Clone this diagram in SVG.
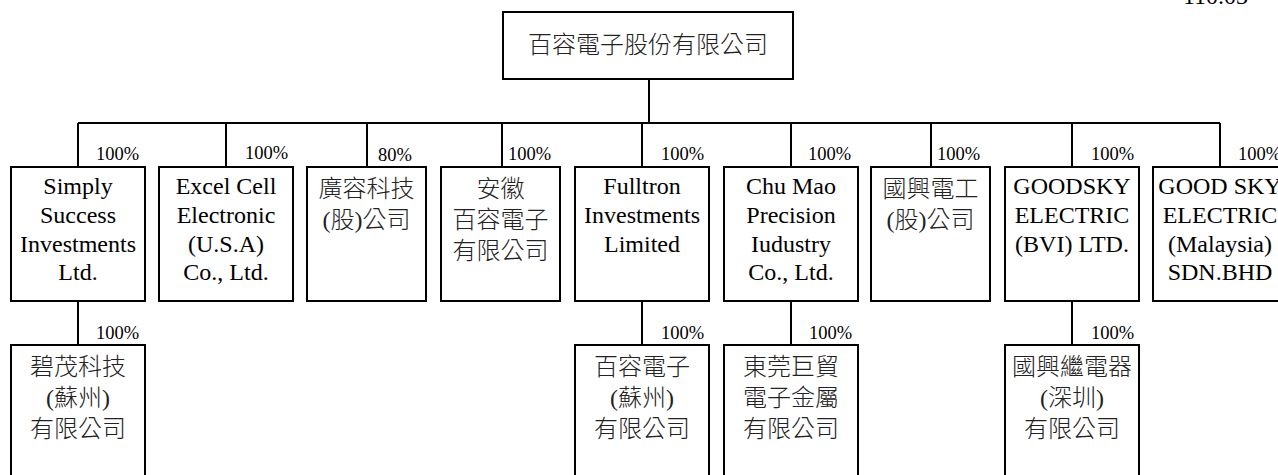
<svg xmlns="http://www.w3.org/2000/svg" width="1278" height="475" viewBox="0 0 1278 475">
<style>
.box{fill:#fff;stroke:#000;stroke-width:2}
.ln{stroke:#000;stroke-width:2;fill:none}
text{font-family:"Liberation Serif","Noto Sans CJK TC",serif;fill:#000}
.t{font-size:24px;text-anchor:middle}
.c{font-size:24px;text-anchor:middle;fill:#222;font-weight:300}
.p{font-size:18.5px}
</style>
<rect width="1278" height="475" fill="#fff"/>
<text x="1248" y="4" font-size="24" text-anchor="end">110.03</text>
<g id="connectors">
<path class="ln" d="M649 79V123M78 123H1220M78 123V167M226 123V167M367 123V167M502 123V167M642 123V167M791 123V167M931 123V167M1072 123V167M1220 123V167M78 301V345M642 301V345M791 301V345M1072 301V345"/>
<text class="p" x="96" y="160">100%</text>
<text class="p" x="245" y="159">100%</text>
<text class="p" x="378" y="161">80%</text>
<text class="p" x="508" y="160">100%</text>
<text class="p" x="661" y="160">100%</text>
<text class="p" x="808" y="160">100%</text>
<text class="p" x="937" y="160">100%</text>
<text class="p" x="1091" y="160">100%</text>
<text class="p" x="1238" y="160">100%</text>
<text class="p" x="96" y="339">100%</text>
<text class="p" x="661" y="339">100%</text>
<text class="p" x="809" y="339">100%</text>
<text class="p" x="1091" y="339">100%</text>
</g>
<g id="root">
<rect class="box" x="503" y="12" width="290" height="67"/>
<text class="c" x="648" y="53">百容電子股份有限公司</text>
</g>
<g id="n1">
<rect class="box" x="11" y="167" width="134" height="134"/>
<text class="t" x="78" y="194">Simply</text>
<text class="t" x="78" y="223">Success</text>
<text class="t" x="78" y="252">Investments</text>
<text class="t" x="78" y="280">Ltd.</text>
</g>
<g id="n2">
<rect class="box" x="159" y="167" width="134" height="134"/>
<text class="t" x="226" y="194">Excel Cell</text>
<text class="t" x="226" y="223">Electronic</text>
<text class="t" x="226" y="252">(U.S.A)</text>
<text class="t" x="226" y="280">Co., Ltd.</text>
</g>
<g id="n3">
<rect class="box" x="307" y="167" width="119" height="134"/>
<text class="c" x="366.5" y="197">廣容科技</text>
<text class="c" x="366.5" y="228">(股)公司</text>
</g>
<g id="n4">
<rect class="box" x="441" y="167" width="119" height="134"/>
<text class="c" x="500.5" y="197">安徽</text>
<text class="c" x="500.5" y="228">百容電子</text>
<text class="c" x="500.5" y="259">有限公司</text>
</g>
<g id="n5">
<rect class="box" x="575" y="167" width="134" height="134"/>
<text class="t" x="642" y="194">Fulltron</text>
<text class="t" x="642" y="223">Investments</text>
<text class="t" x="642" y="252">Limited</text>
</g>
<g id="n6">
<rect class="box" x="724" y="167" width="134" height="134"/>
<text class="t" x="791" y="194">Chu Mao</text>
<text class="t" x="791" y="223">Precision</text>
<text class="t" x="791" y="252">Iudustry</text>
<text class="t" x="791" y="280">Co., Ltd.</text>
</g>
<g id="n7">
<rect class="box" x="871" y="167" width="119" height="134"/>
<text class="c" x="930.5" y="197">國興電工</text>
<text class="c" x="930.5" y="228">(股)公司</text>
</g>
<g id="n8">
<rect class="box" x="1005" y="167" width="134" height="134"/>
<text class="t" x="1072" y="194">GOODSKY</text>
<text class="t" x="1072" y="223">ELECTRIC</text>
<text class="t" x="1072" y="252">(BVI) LTD.</text>
</g>
<g id="n9">
<rect class="box" x="1153" y="167" width="134" height="134"/>
<text class="t" x="1220" y="194">GOOD SKY</text>
<text class="t" x="1220" y="223">ELECTRIC</text>
<text class="t" x="1220" y="252">(Malaysia)</text>
<text class="t" x="1220" y="280">SDN.BHD</text>
</g>
<g id="n10">
<rect class="box" x="11" y="345" width="134" height="150"/>
<text class="c" x="78" y="375">碧茂科技</text>
<text class="c" x="78" y="406">(蘇州)</text>
<text class="c" x="78" y="437">有限公司</text>
</g>
<g id="n11">
<rect class="box" x="575" y="345" width="134" height="150"/>
<text class="c" x="642" y="375">百容電子</text>
<text class="c" x="642" y="406">(蘇州)</text>
<text class="c" x="642" y="437">有限公司</text>
</g>
<g id="n12">
<rect class="box" x="724" y="345" width="134" height="150"/>
<text class="c" x="791" y="375">東莞巨貿</text>
<text class="c" x="791" y="406">電子金屬</text>
<text class="c" x="791" y="437">有限公司</text>
</g>
<g id="n13">
<rect class="box" x="1005" y="345" width="134" height="150"/>
<text class="c" x="1072" y="375">國興繼電器</text>
<text class="c" x="1072" y="406">(深圳)</text>
<text class="c" x="1072" y="437">有限公司</text>
</g>
</svg>
